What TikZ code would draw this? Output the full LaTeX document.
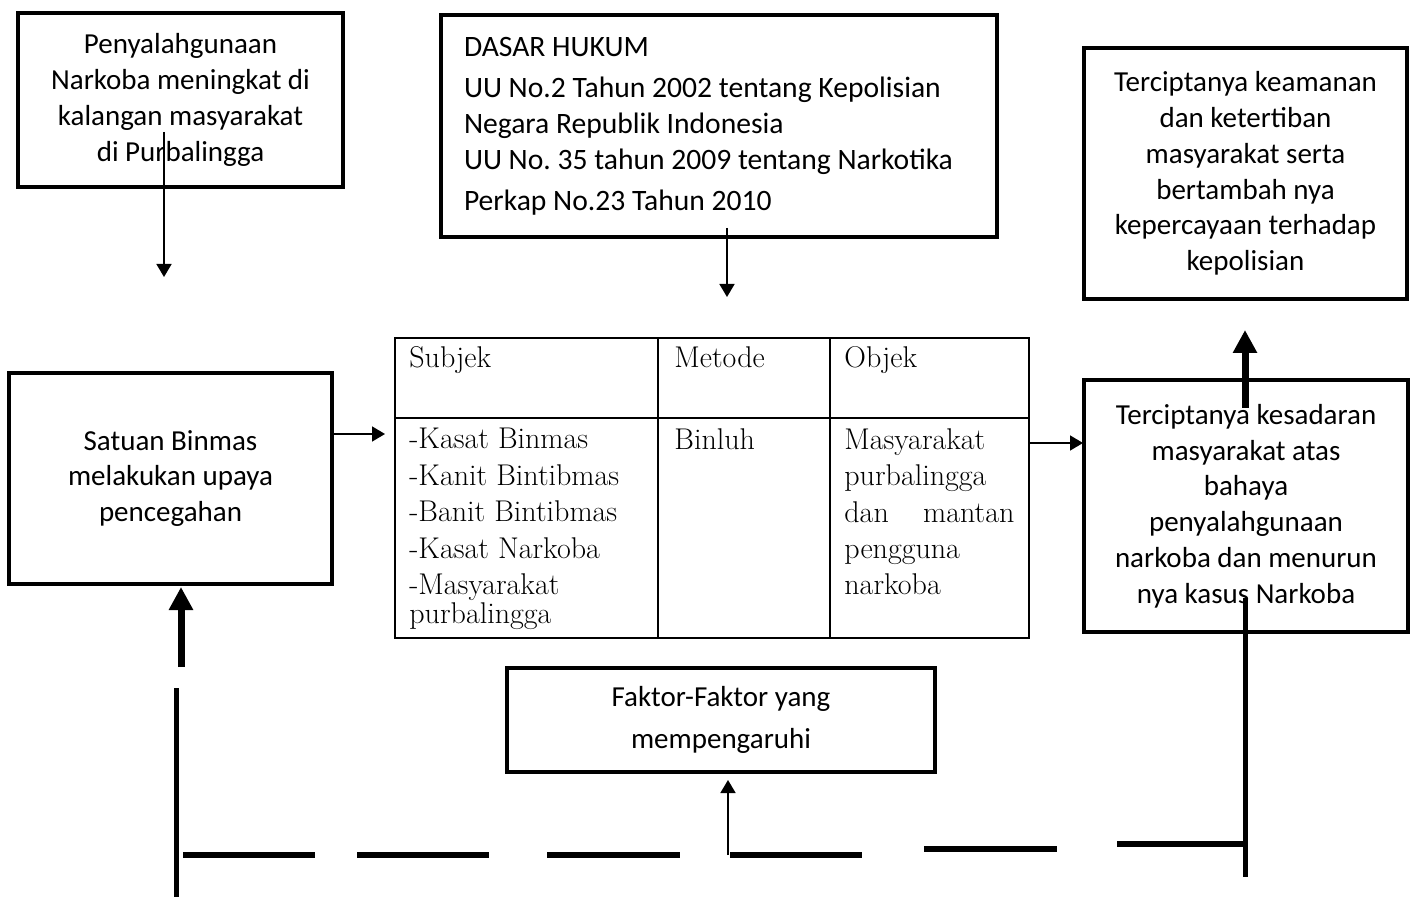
\documentclass[tikz,border=0pt]{standalone}
\usepackage{fontspec}
\setmainfont{Carlito}
\newfontfamily\tabelfont{Latin Modern Roman}
\usetikzlibrary{arrows.meta,positioning}

\begin{document}
\begin{tikzpicture}[x=0.5pt, y=-0.5pt,
    box/.style={rectangle, draw, line width=2pt, align=center, inner sep=0pt, font=\fontsize{14.5}{17.9}\selectfont},
    sel/.style={anchor=north west, inner sep=0pt, align=left, font=\tabelfont\fontsize{15}{18.2}\selectfont},
    arrow/.style={-{Triangle[length=6.5pt,width=7.5pt]}, line width=0.8pt},
    tebal/.style={-{Triangle[length=11.5pt,width=11.5pt]}, line width=3.5pt},
    garis/.style={line width=2.5pt},
    putus/.style={line width=3.4pt}]

    \useasboundingbox (0,0) rectangle (1414,898);

    % Kotak atas
    \node[box, minimum width=162.5pt, minimum height=87pt] (masalah) at (180.5,100)
        {Penyalahgunaan\\Narkoba meningkat di\\kalangan masyarakat\\di Purbalingga};
    \node[box, minimum width=278pt, minimum height=111pt, align=flush left, text width=255pt,
          font=\fontsize{14.8}{18}\selectfont] (dasar) at (719,126)
        {DASAR HUKUM\\[2.5pt]UU No.2 Tahun 2002 tentang Kepolisian\\Negara Republik Indonesia\\UU No.\ 35 tahun 2009 tentang Narkotika\\[2.5pt]Perkap No.23 Tahun 2010};
    \node[box, minimum width=161.5pt, minimum height=125.5pt] (hasil) at (1245.5,173.5)
        {Terciptanya keamanan\\dan ketertiban\\masyarakat serta\\bertambah nya\\kepercayaan terhadap\\kepolisian};

    % Kotak tengah
    \node[box, minimum width=161.5pt, minimum height=105.5pt] (binmas) at (170.5,478.5)
        {Satuan Binmas\\melakukan upaya\\pencegahan};
    \node[box, minimum width=162pt, minimum height=126pt] (kesadaran) at (1246,506)
        {Terciptanya kesadaran\\masyarakat atas\\bahaya\\penyalahgunaan\\narkoba dan menurun\\nya kasus Narkoba};
    \node[box, minimum width=214pt, minimum height=52pt, font=\fontsize{14.5}{21}\selectfont] (faktor) at (721,720)
        {Faktor-Faktor yang\\mempengaruhi};

    % Tabel
    \node[draw, line width=0.8pt, minimum width=317pt, minimum height=150pt, inner sep=0pt] (tabel) at (712,488) {};
    \draw[line width=0.8pt] (395,418) -- (1029,418);
    \draw[line width=0.8pt] (658,338) -- (658,638);
    \draw[line width=0.8pt] (830,338) -- (830,638);
    \node[sel] (subjek) at (409,346) {Subjek};
    \node[sel] (metode) at (674,346) {Metode};
    \node[sel] (objek) at (844,346) {Objek};
    \node[sel] (subjekisi) at (409,428)
        {-Kasat Binmas\\-Kanit Bintibmas\\-Banit Bintibmas\\-Kasat Narkoba\\-Masyarakat\\[-3.5pt]purbalingga};
    \node[sel] (metodeisi) at (674,428) {Binluh};
    \node[sel, text width=85pt] (objekisi) at (844,428)
        {Masyarakat\\purbalingga\\dan\hfill mantan\\pengguna\\narkoba};

    % Titik bantu
    \coordinate (m1) at (164,132);
    \coordinate (m2) at (164,277);
    \coordinate (d1) at (727,228);
    \coordinate (d2) at (727,297);
    \coordinate (b1) at (385,434);
    \coordinate (t1) at (1083,443);
    \coordinate (k1) at (1245,408);
    \coordinate (k2) at (1245,330);
    \coordinate (k3) at (1245,598);
    \coordinate (k4) at (1245,877);
    \coordinate (s1) at (181,667);
    \coordinate (s2) at (181,587);
    \coordinate (s3) at (176,688);
    \coordinate (s4) at (176,897);
    \coordinate (f1) at (728,855);
    \coordinate (f2) at (728,780);

    % Panah
    \draw[arrow] (m1) -- (m2);
    \draw[arrow] (d1) -- (d2);
    \draw[arrow] (binmas.east |- b1) -- (b1);
    \draw[arrow] (tabel.east |- t1) -- (t1);
    \draw[tebal] (k1) -- (k2);
    \draw[garis] (k3) -- (k4);
    \draw[tebal] (s1) -- (s2);
    \draw[garis] (s3) -- (s4);
    \foreach \a/\b/\y in {183/315/855, 357/489/855, 547/680/855, 730/862/855, 924/1057/849, 1117/1248/844}
        \draw[putus] (\a,\y) -- (\b,\y);
    \draw[arrow] (f1) -- (f2);

\end{tikzpicture}
\end{document}
